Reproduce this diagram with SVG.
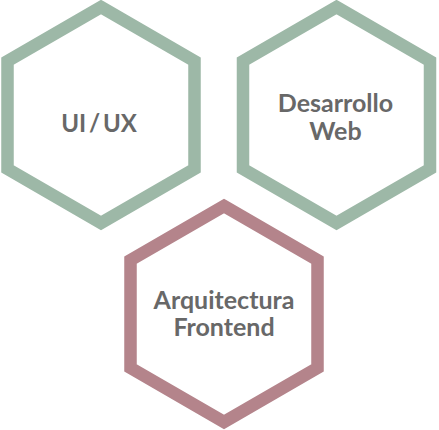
<svg xmlns="http://www.w3.org/2000/svg" width="439" height="430" viewBox="0 0 439 430">
<style>
.hex{fill:#fff;stroke-width:12.5;stroke-linejoin:miter}
.g{stroke:#9db8a7}
.p{stroke:#b4848b}
.t{font-family:Lato,"Liberation Sans",sans-serif;font-weight:bold;font-size:25px;fill:#686868;text-anchor:middle}
.u{font-size:24px;word-spacing:-3px}
</style>
<g id="ui-ux">
<polygon class="hex g" points="101,7 194.5,61 194.5,169 101,223 7.5,169 7.5,61"/>
<text class="t u" x="99" y="132">UI / UX</text>
</g>
<g id="desarrollo-web">
<polygon class="hex g" points="336.5,7 430,61 430,169 336.5,223 243,169 243,61"/>
<text class="t" x="335.5" y="112">Desarrollo</text>
<text class="t" x="335.5" y="140">Web</text>
</g>
<g id="arquitectura-frontend">
<polygon class="hex p" points="224,206 317.5,260 317.5,368 224,422 130.5,368 130.5,260"/>
<text class="t" x="224" y="309">Arquitectura</text>
<text class="t" x="224" y="336">Frontend</text>
</g>
<g id="connectors"/>
</svg>
